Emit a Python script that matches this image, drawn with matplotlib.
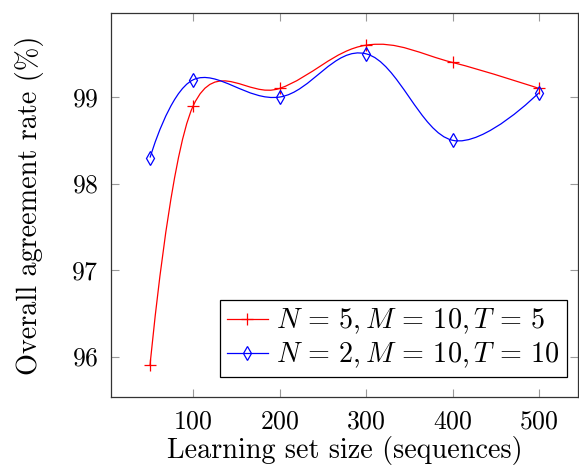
import numpy as np
import matplotlib
matplotlib.use('Agg')
import matplotlib.pyplot as plt
from matplotlib.path import Path
from matplotlib.patches import PathPatch
from matplotlib.lines import Line2D

# data
sizes = [50, 100, 200, 300, 400, 500]
rate_n5 = [95.9, 98.9, 99.1, 99.6, 99.4, 99.1]
rate_n2 = [98.3, 99.2, 99.0, 99.5, 98.5, 99.05]
labels = [r'$N\,=\,5, M\,=\,10, T\,=\,5$', r'$N\,=\,2, M\,=\,10, T\,=\,10$']
xticks = [100, 200, 300, 400, 500]
yticks = [96, 97, 98, 99]

plt.rcParams['font.family'] = 'serif'
plt.rcParams['font.serif'] = ['cmr10']
plt.rcParams['mathtext.fontset'] = 'cm'
plt.rcParams['axes.formatter.use_mathtext'] = True


def smooth_path(x, y, tension=0.55):
    # pgfplots-style "smooth": cubic bezier with tension based supports
    f = tension / 3.0
    pts = np.column_stack([x, y]).astype(float)
    n = len(pts)
    verts = [pts[0]]
    codes = [Path.MOVETO]
    for i in range(n - 1):
        p0, p1 = pts[i], pts[i + 1]
        c1 = p0 if i == 0 else p0 + f * (pts[i + 1] - pts[i - 1])
        c2 = p1 if i == n - 2 else p1 - f * (pts[i + 2] - pts[i])
        verts += [c1, c2, p1]
        codes += [Path.CURVE4] * 3
    return Path(verts, codes)


fig = plt.figure(figsize=(5.79, 4.70), dpi=100)
ax = fig.add_axes([0.192, 0.155, 0.806, 0.817])

series = [(rate_n5, 'red', '+', 8), (rate_n2, 'blue', 'd', 7)]
handles = []
for vals, col, mk, ms in series:
    ax.add_patch(PathPatch(smooth_path(sizes, vals), facecolor='none',
                           edgecolor=col, lw=0.9, zorder=3))
    ax.plot(sizes, vals, ls='none', marker=mk, ms=ms, mec=col, mfc='none',
            mew=0.9, zorder=4)
    handles.append(Line2D([], [], color=col, lw=0.9, marker=mk, ms=ms,
                          mec=col, mfc='none', mew=0.9))

ax.set_xlim(5, 545)
ax.set_ylim(95.53, 99.97)
ax.set_xticks(xticks)
ax.set_yticks(yticks)
ax.tick_params(direction='in', length=6, width=0.8, color='#999999',
               top=True, right=True, labelsize=18.5, pad=9)
for s in ax.spines.values():
    s.set_color('#333333')
    s.set_linewidth(0.9)

ax.set_xlabel('Learning set size (sequences)', fontsize=20.3, labelpad=2)
ax.set_ylabel('Overall agreement rate (%)', fontsize=20.3, labelpad=20)

leg = ax.legend(handles, labels, loc='lower right', fontsize=20.3,
                bbox_to_anchor=(0.976, 0.052), borderaxespad=0,
                fancybox=False, framealpha=1, edgecolor='black',
                handlelength=1.45, handletextpad=0.3, borderpad=0.25,
                labelspacing=0.15)
leg.get_frame().set_linewidth(0.9)

fig.savefig('out.png', dpi=100)
